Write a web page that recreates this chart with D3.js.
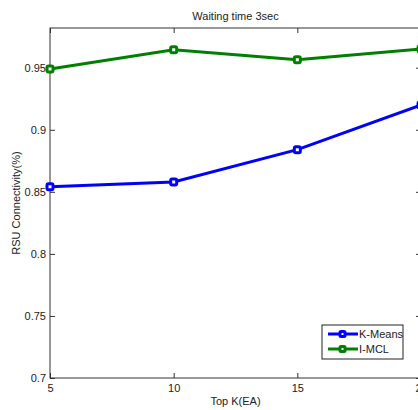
<!DOCTYPE html>
<html>
<head>
<meta charset="utf-8">
<script src="https://cdn.jsdelivr.net/npm/d3@7"></script>
<style>
  body { margin: 0; background: #fff; }
  svg { display: block; font-family: "Liberation Sans", Arial, sans-serif; }
</style>
</head>
<body>
<svg width="418" height="410"></svg>
<script>
const topK = [5, 10, 15, 20];
const kMeans = [0.854, 0.858, 0.884, 0.92];
const iMcl = [0.949, 0.9645, 0.9565, 0.965];
const yTicks = [0.7, 0.75, 0.8, 0.85, 0.9, 0.95];
const seriesNames = ["K-Means", "I-MCL"];
const seriesColors = ["#0000ff", "#008000"];

const PLOT = { left: 50, top: 28, right: 421, bottom: 378 };
const TICK = 5;
const AXIS_COLOR = "#333";

function main() {
  const svg = d3.select("svg");

  const x = d3.scaleLinear().domain([5, 20]).range([PLOT.left, PLOT.right]);
  const y = d3.scaleLinear().domain([0.7, 0.982]).range([PLOT.bottom, PLOT.top]);

  // frame
  svg
    .append("rect")
    .attr("x", PLOT.left)
    .attr("y", PLOT.top)
    .attr("width", PLOT.right - PLOT.left)
    .attr("height", PLOT.bottom - PLOT.top)
    .attr("fill", "none")
    .attr("stroke", AXIS_COLOR)
    .attr("stroke-width", 1);

  // axes (ticks pointing inward)
  const styleAxis = (g) => {
    g.select(".domain").remove();
    g.selectAll("line").attr("stroke", AXIS_COLOR);
    g.selectAll("text")
      .attr("fill", "#222")
      .style("font-size", "11px");
  };

  svg
    .append("g")
    .attr("transform", `translate(0,${PLOT.bottom})`)
    .call(d3.axisBottom(x).tickValues(topK).tickSize(-TICK).tickPadding(6).tickFormat(d3.format("d")))
    .call(styleAxis);

  svg
    .append("g")
    .attr("transform", `translate(0,${PLOT.top})`)
    .call(d3.axisTop(x).tickValues(topK).tickSize(-TICK).tickFormat(""))
    .call(styleAxis);

  svg
    .append("g")
    .attr("transform", `translate(${PLOT.left},0)`)
    .call(d3.axisLeft(y).tickValues(yTicks).tickSize(-TICK).tickPadding(4).tickFormat((d) => String(d)))
    .call(styleAxis);

  svg
    .append("g")
    .attr("transform", `translate(${PLOT.right},0)`)
    .call(d3.axisRight(y).tickValues(yTicks).tickSize(-TICK).tickFormat(""))
    .call(styleAxis);

  // lines
  const line = d3
    .line()
    .x((d, i) => x(topK[i]))
    .y((d) => y(d));

  [kMeans, iMcl].forEach((values, s) => {
    const g = svg.append("g");
    g.append("path")
      .datum(values)
      .attr("d", line)
      .attr("fill", "none")
      .attr("stroke", seriesColors[s])
      .attr("stroke-width", 3);
    g.selectAll("rect")
      .data(values)
      .enter()
      .append("rect")
      .attr("x", (d, i) => x(topK[i]) - 3)
      .attr("y", (d) => y(d) - 3)
      .attr("width", 6)
      .attr("height", 6)
      .attr("rx", 1.5)
      .attr("fill", "#fff")
      .attr("stroke", seriesColors[s])
      .attr("stroke-width", 3);
  });

  // title and labels
  svg
    .append("text")
    .attr("x", (PLOT.left + PLOT.right) / 2)
    .attr("y", 20)
    .attr("text-anchor", "middle")
    .attr("fill", "#222")
    .style("font-size", "11px")
    .text("Waiting time 3sec");

  svg
    .append("text")
    .attr("x", (PLOT.left + PLOT.right) / 2)
    .attr("y", 405)
    .attr("text-anchor", "middle")
    .attr("fill", "#222")
    .style("font-size", "11px")
    .text("Top K(EA)");

  svg
    .append("text")
    .attr("transform", `translate(20,${(PLOT.top + PLOT.bottom) / 2}) rotate(-90)`)
    .attr("text-anchor", "middle")
    .attr("fill", "#222")
    .style("font-size", "11px")
    .text("RSU Connectivity(%)");

  // legend
  const legend = svg.append("g").attr("transform", "translate(322,325)");
  legend
    .append("rect")
    .attr("width", 81)
    .attr("height", 34)
    .attr("fill", "#fff")
    .attr("stroke", "#222")
    .attr("stroke-width", 1);

  seriesNames.forEach((name, i) => {
    const row = legend.append("g").attr("transform", `translate(0,${9 + i * 15})`);
    row.append("line")
      .attr("x1", 6)
      .attr("x2", 36)
      .attr("stroke", seriesColors[i])
      .attr("stroke-width", 3);
    row.append("rect")
      .attr("x", 18)
      .attr("y", -2.5)
      .attr("width", 5)
      .attr("height", 5)
      .attr("rx", 1)
      .attr("fill", "#fff")
      .attr("stroke", seriesColors[i])
      .attr("stroke-width", 3);
    row.append("text")
      .attr("x", 37)
      .attr("y", 4)
      .attr("fill", "#222")
      .style("font-size", "11px")
      .text(name);
  });
}

main();
</script>
</body>
</html>
